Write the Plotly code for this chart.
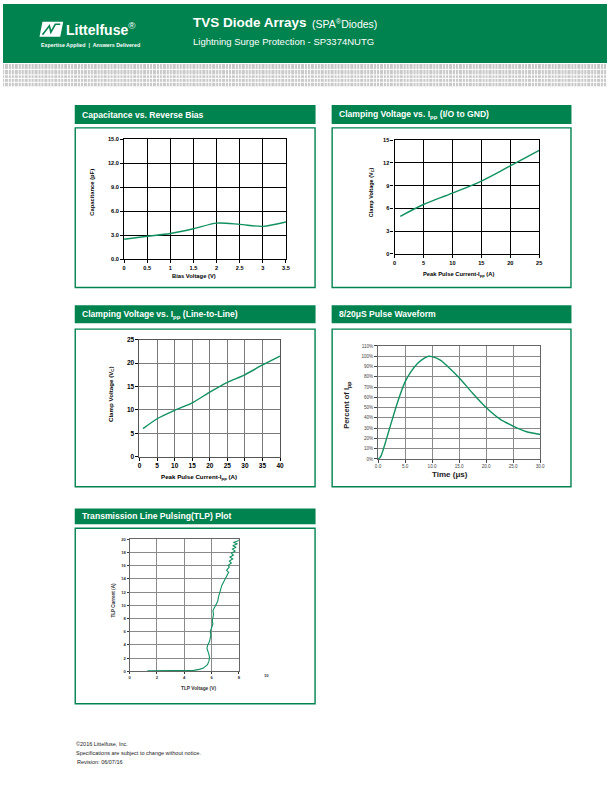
import plotly.graph_objects as go

# ---------------- data ----------------
bias_v = [0, 0.5, 1.0, 1.5, 2.0, 2.5, 3.0, 3.5]
cap_pf = [2.49, 2.85, 3.2, 3.8, 4.5, 4.35, 4.1, 4.64]

ipp_gnd = [1, 5, 10, 15, 20, 25]
vc_gnd = [4.93, 6.5, 8.0, 9.6, 11.6, 13.65]

ipp_ll = [1, 5, 10, 15, 20, 25, 30, 35, 40]
vc_ll = [6.0, 8.1, 9.9, 11.5, 13.8, 15.9, 17.5, 19.6, 21.5]

time_us = [0, 0.3, 0.6, 0.9, 1.5, 2.4, 3.6, 5.0, 6.1, 7.3, 8.5, 9.4, 10.0, 11.6, 12.5, 15.0, 17.5, 20.0, 22.5, 25.0, 27.5, 30.0]
pct_ipp = [0, 1.0, 3.5, 8.0, 18.3, 34.4, 55, 75, 85, 93, 98, 100, 99.6, 96, 92, 79, 64, 50, 39, 32, 26.5, 23.8]

tlp_v = [1.3, 2.0, 3.0, 4.0, 4.7, 5.1, 5.4, 5.55, 5.7, 5.8, 5.85, 5.8, 5.7, 5.66, 5.72, 5.85, 5.9, 5.95, 5.9, 6.0, 6.1, 6.05, 6.1,
         6.14, 6.1, 6.2, 6.3, 6.45, 6.5, 6.6, 6.75, 6.9, 7.0, 7.1, 7.25, 7.1, 7.3, 7.2, 7.45, 7.3, 7.55, 7.35, 7.6, 7.45, 7.75,
         7.5, 7.8, 7.55, 7.9, 7.6, 8.0, 8.05]
tlp_i = [0.1, 0.1, 0.1, 0.1, 0.15, 0.3, 0.5, 0.75, 1.0, 1.5, 2.1, 2.6, 3.1, 3.5, 4.0, 4.5, 5.0, 5.5, 6.0, 6.6, 7.2, 7.6, 8.0,
         8.6, 9.2, 9.6, 10.0, 10.6, 11.2, 12.0, 13.0, 13.6, 14.0, 14.5, 15.0, 15.3, 15.8, 16.0, 16.4, 16.7, 17.0, 17.3, 17.6,
         17.9, 18.2, 18.5, 18.8, 19.0, 19.3, 19.5, 19.8, 20.0]

cap_ticks = [0, 3, 6, 9, 12, 15]
bias_ticks = [0, 0.5, 1, 1.5, 2, 2.5, 3, 3.5]
gnd_yticks = [0, 3, 6, 9, 12, 15]
gnd_xticks = [0, 5, 10, 15, 20, 25]
ll_yticks = [0, 5, 10, 15, 20, 25]
ll_xticks = [0, 5, 10, 15, 20, 25, 30, 35, 40]
pw_yticks = list(range(0, 111, 10))
pw_xticks = [0, 5, 10, 15, 20, 25, 30]
tlp_yticks = list(range(0, 21, 2))
tlp_xticks = [0, 2, 4, 6, 8]
tlp_xlabel_extra = 10

# ---------------- helpers ----------------
W, H = 612, 792
def px(x):
    return x / W
def py(y):
    return 1 - y / H

GREEN = "#00834E"
LINE = "#11915F"
FONT = "Liberation Sans, Arial, sans-serif"

fig = go.Figure()

fig.add_trace(go.Scatter(x=bias_v, y=cap_pf, mode="lines", line=dict(color=LINE, width=1.4, shape="spline", smoothing=0.8),
                         xaxis="x", yaxis="y", showlegend=False))
fig.add_trace(go.Scatter(x=ipp_gnd, y=vc_gnd, mode="lines", line=dict(color=LINE, width=1.4, shape="spline"),
                         xaxis="x2", yaxis="y2", showlegend=False))
fig.add_trace(go.Scatter(x=ipp_ll, y=vc_ll, mode="lines", line=dict(color=LINE, width=1.4, shape="spline", smoothing=0.5),
                         xaxis="x3", yaxis="y3", showlegend=False))
fig.add_trace(go.Scatter(x=time_us, y=pct_ipp, mode="lines", line=dict(color=LINE, width=1.4, shape="spline", smoothing=0.5),
                         xaxis="x4", yaxis="y4", showlegend=False))
fig.add_trace(go.Scatter(x=tlp_v, y=tlp_i, mode="lines", line=dict(color=LINE, width=1.1),
                         xaxis="x5", yaxis="y5", showlegend=False, cliponaxis=False))

def axis_style(domain, rng, ticks, anchor, gridcolor, gridwidth, tsize, tcolor="black", fmt=None, texts=None, bold=True, linecolor=None, ticklen=3):
    d = dict(domain=domain, range=rng, tickmode="array", tickvals=ticks, anchor=anchor,
             showgrid=True, gridcolor=gridcolor, gridwidth=gridwidth,
             showline=True, linecolor=linecolor or gridcolor, linewidth=gridwidth, mirror=True,
             ticks="outside", ticklen=ticklen, tickwidth=0.8, tickcolor=tcolor, zeroline=False,
             tickfont=dict(family=FONT, size=tsize, color=tcolor, weight="bold" if bold else "normal"),
             fixedrange=True)
    if fmt:
        d["tickformat"] = fmt
    if texts:
        d["ticktext"] = texts
    return d

x5_dom = [px(128.3), px(239.0)]
x5_rng = [0, 8]

layout = dict(
    width=W, height=H, margin=dict(l=0, r=0, t=0, b=0), paper_bgcolor="white", plot_bgcolor="white",
    showlegend=False,
    xaxis=axis_style([px(122.7), px(286.7)], [0, 3.5], bias_ticks, "y", "black", 1.3, 5.6),
    yaxis=axis_style([py(257.3), py(136.7)], [0, 15], cap_ticks, "x", "black", 1.3, 5.6, fmt=".1f"),
    xaxis2=axis_style([px(396.7), px(543.3)], [0, 25], gnd_xticks, "y2", "black", 1.2, 5.6),
    yaxis2=axis_style([py(252), py(137.3)], [0, 15], gnd_yticks, "x2", "black", 1.2, 5.6),
    xaxis3=axis_style([px(138.3), px(280.7)], [0, 40], ll_xticks, "y3", "#7a7a7a", 1.0, 6.5, linecolor="#555555"),
    yaxis3=axis_style([py(456.7), py(338.7)], [0, 25], ll_yticks, "x3", "#7a7a7a", 1.0, 6.5, linecolor="#555555"),
    xaxis4=axis_style([px(380), px(544.3)], [0, 30], pw_xticks, "y4", "#8a8a8a", 0.8, 4.6, tcolor="#444444", fmt=".1f", bold=False, linecolor="#666666"),
    yaxis4=axis_style([py(459), py(345)], [0, 110], pw_yticks, "x4", "#8a8a8a", 0.8, 4.6, tcolor="#444444",
                      texts=["%d%%" % v for v in pw_yticks], bold=False, linecolor="#666666"),
    xaxis5=axis_style(x5_dom, x5_rng, tlp_xticks, "y5", "#8a8a8a", 0.8, 4.2, tcolor="#333333", linecolor="#666666", ticklen=2),
    yaxis5=axis_style([py(673.3), py(540)], [0, 20], tlp_yticks, "x5", "#8a8a8a", 0.8, 4.2, tcolor="#333333", linecolor="#666666", ticklen=2),
)

shapes = []
annotations = []

# header band
shapes.append(dict(type="rect", xref="paper", yref="paper", x0=0, x1=1, y0=py(59.5), y1=1, fillcolor=GREEN, line=dict(width=0), layer="below"))
# dotted pattern band
shapes.append(dict(type="rect", xref="paper", yref="paper", x0=0, x1=1, y0=py(83), y1=py(60.5), fillcolor="#c9c9c9", line=dict(width=0), layer="below"))
for yy in [66.0, 71.5, 75.0, 79.0]:
    shapes.append(dict(type="line", xref="paper", yref="paper", x0=0, x1=1, y0=py(yy), y1=py(yy), line=dict(color="white", width=1.0), layer="below"))
xx = 1.5
k = 0
while xx < W:
    shapes.append(dict(type="line", xref="paper", yref="paper", x0=px(xx), x1=px(xx), y0=py(83), y1=py(60.5),
                       line=dict(color="white", width=0.9), layer="below"))
    xx += 3.0 if k % 3 else 4.0
    k += 1

# logo icon
shapes.append(dict(type="path", xref="paper", yref="paper",
                   path="M %f %f L %f %f L %f %f L %f %f Z" % (px(37), py(33), px(40), py(18), px(61), py(18), px(58), py(33)),
                   fillcolor="white", line=dict(width=0)))
shapes.append(dict(type="path", xref="paper", yref="paper",
                   path="M %f %f L %f %f L %f %f L %f %f L %f %f" % (px(40), py(31), px(47), py(22), px(48.5), py(28.5), px(53), py(20.5), px(58), py(20.5)),
                   line=dict(color=GREEN, width=1.6)))

annotations.append(dict(text="<b>Littelfuse</b><sup>®</sup>", x=px(62), y=py(25), xref="paper", yref="paper", xanchor="left", yanchor="middle",
                        showarrow=False, font=dict(family=FONT, size=14, color="white")))
annotations.append(dict(text="<b>Expertise Applied  |  Answers Delivered</b>", x=px(36.5), y=py(41.5), xref="paper", yref="paper", xanchor="left", yanchor="middle",
                        showarrow=False, font=dict(family=FONT, size=5.3, color="white")))
annotations.append(dict(text="<b>TVS Diode Arrays</b>", x=px(190.5), y=py(19), xref="paper", yref="paper",
                        xanchor="left", yanchor="middle", showarrow=False, font=dict(family=FONT, size=13.5, color="white")))
annotations.append(dict(text="(SPA<sup>®</sup>Diodes)", x=px(311), y=py(19.5), xref="paper", yref="paper",
                        xanchor="left", yanchor="middle", showarrow=False, font=dict(family=FONT, size=10.5, color="white")))
annotations.append(dict(text="Lightning Surge Protection - SP3374NUTG", x=px(190.5), y=py(37.5), xref="paper", yref="paper",
                        xanchor="left", yanchor="middle", showarrow=False, font=dict(family=FONT, size=9.5, color="white")))

# title bars + boxes
panels = [
    (72.7, 316.7, 102, 121, 125, 286, "Capacitance vs. Reverse Bias"),
    (333, 576, 102, 121, 125, 286, "Clamping Voltage vs. I<sub>pp</sub> (I/O to GND)"),
    (72.7, 316.7, 304, 322, 328, 487, "Clamping Voltage vs. I<sub>pp</sub> (Line-to-Line)"),
    (333, 576, 304, 322, 328, 487, "8/20μS Pulse Waveform"),
    (72.7, 316.7, 509, 525, 529, 706, "Transmission Line Pulsing(TLP) Plot"),
]
for x0, x1, by0, by1, bx0, bx1, title in panels:
    shapes.append(dict(type="rect", xref="paper", yref="paper", x0=px(x0), x1=px(x1), y0=py(by1), y1=py(by0), fillcolor=GREEN, line=dict(width=0)))
    shapes.append(dict(type="rect", xref="paper", yref="paper", x0=px(x0 + 0.5), x1=px(x1 - 0.5), y0=py(bx1), y1=py(bx0), fillcolor="rgba(0,0,0,0)",
                       line=dict(color=GREEN, width=1.4)))
    annotations.append(dict(text="<b>%s</b>" % title, x=px(x0 + 5.5), y=py((by0 + by1) / 2), xref="paper", yref="paper",
                            xanchor="left", yanchor="middle", showarrow=False, font=dict(family=FONT, size=8.6, color="white")))

def title_ann(text, x, y, size, angle=0, color="black", bold=True):
    annotations.append(dict(text=("<b>%s</b>" % text) if bold else text, x=px(x), y=py(y), xref="paper", yref="paper",
                            xanchor="center", yanchor="middle", showarrow=False, textangle=angle,
                            font=dict(family=FONT, size=size, color=color)))

title_ann("Capacitance (pF)", 90.5, 190, 5.8, -90)
title_ann("Bias Voltage (V)", 194, 274.3, 5.8)
title_ann("Clamp Voltage (V<sub>C</sub>)", 372.7, 190, 5.5, -90)
title_ann("Peak Pulse Current-I<sub>pp</sub> (A)", 461.7, 272.7, 5.8)
title_ann("Clamp Voltage (V<sub>C</sub>)", 109, 394, 6.2, -90)
title_ann("Peak Pulse Current-I<sub>pp</sub> (A)", 198.3, 477.7, 6.2)
title_ann("Percent of I<sub>pp</sub>", 349, 405, 7.5, -90, color="#222222")
title_ann("Time (μs)", 453.3, 475, 8, color="#222222")
title_ann("TLP Current (A)", 111.7, 601.7, 4.6, -90, color="#333333")
title_ann("TLP Voltage (V)", 198.3, 691, 4.8, color="#333333")

# extra tick label "10" on TLP x axis, placed via the axis' linear mapping (beyond the gridded area)
x10 = x5_dom[0] + (tlp_xlabel_extra - x5_rng[0]) / (x5_rng[1] - x5_rng[0]) * (x5_dom[1] - x5_dom[0])
annotations.append(dict(text="<b>%d</b>" % tlp_xlabel_extra, x=x10, y=py(677.3), xref="paper", yref="paper", xanchor="center", yanchor="middle",
                        showarrow=False, font=dict(family=FONT, size=4.2, color="#333333")))

# footer
for txt, yy, xx_ in [("©2016 Littelfuse, Inc.", 747, 72), ("Specifications are subject to change without notice.", 756, 72),
                     ("Revision: 06/07/16", 765, 73)]:
    annotations.append(dict(text=txt, x=px(xx_), y=py(yy), xref="paper", yref="paper", xanchor="left", yanchor="middle",
                            showarrow=False, font=dict(family=FONT, size=5.5, color="#222222")))

layout["shapes"] = shapes
layout["annotations"] = annotations
fig.update_layout(**layout)
fig.write_html("out.html", config={"displayModeBar": False},
               post_script="document.body.style.margin='0';document.body.style.padding='0';document.documentElement.style.overflow='hidden';")
